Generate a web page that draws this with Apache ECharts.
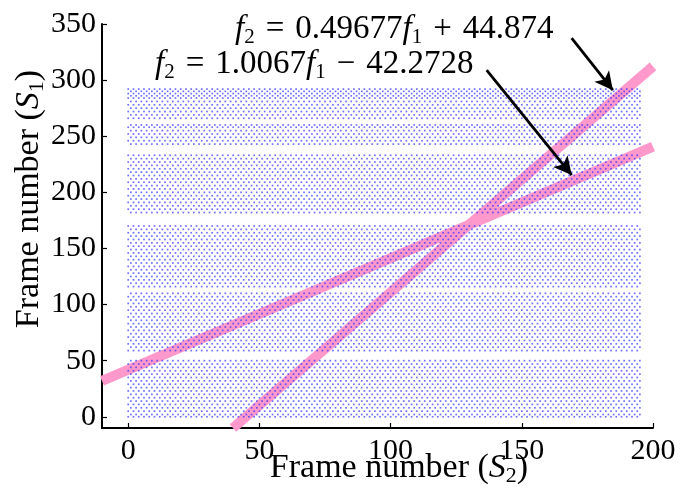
<!DOCTYPE html>
<html>
<head>
<meta charset="utf-8">
<script src="https://cdn.jsdelivr.net/npm/echarts@6/dist/echarts.min.js"></script>
<style>
html, body { margin: 0; padding: 0; background: #fff; }
#chart { width: 684px; height: 487px; }
</style>
</head>
<body>
<div id="chart"></div>
<script>
// tick labels
var xTicks = [0, 50, 100, 150, 200];
var yTicks = [0, 50, 100, 150, 200, 250, 300, 350];

// matched frames: rows of dots (S1 frame values) spanning the S2 frames
var dotFrameFirst = 0;
var dotFrameLast = 195;
var dotRows = [
	0, 2, 5, 8, 11, 14, 17, 20, 23, 26, 29, 32, 35, 38, 41, 44, 47, 50,
	59, 62, 65, 68, 71, 74, 77, 80, 83, 86, 89, 92, 95, 98, 101, 104, 107, 110,
	116, 119, 122, 125, 128, 131, 134, 137, 140, 143, 146, 149, 152, 155, 158, 161, 164, 167, 170,
	182, 185, 188, 191, 194, 197, 200, 203, 206, 209, 212, 215, 218, 221, 224, 227, 230, 233,
	243, 246, 249, 252, 255, 258, 260,
	266, 269, 272, 275, 278, 281, 284, 286, 288, 290, 292
];

// fitted lines, S2 = slope * S1 + intercept (from the annotations)
var fitSlope = [1.0067, 0.49677];
var fitIntercept = [-42.2728, 44.874];
var fitLabels = ['{it|f}{sub|2}{n|\u2004=\u20041.0067}{it|f}{sub|1}{n|\u2004\u2212\u200442.2728}',
	'{it|f}{sub|2}{n|\u2004=\u20040.49677}{it|f}{sub|1}{n|\u2004+\u200444.874}'];
// arrows: [tail, head] in data coords
var arrowTail = [[136.6, 309], [169, 337.5]];
var arrowHead = [[169, 215.4], [184.7, 291]];

var serif = '"Liberation Serif", "DejaVu Serif", serif';

// every other frame per row, shifted on alternate rows
var dots = [];
dotRows.forEach(function (y, r) {
	for (var x = dotFrameFirst + (r % 2); x <= dotFrameLast; x += 2) {
		dots.push([x, y]);
	}
});

// line 0 runs across the whole x range, line 1 starts at the bottom of the y range
function fitEnds(i) {
	var s = fitSlope[i], b = fitIntercept[i];
	if (i == 0) {
		return [[-10, (-10 - b) / s], [200, (200 - b) / s]];
	}
	return [[s * -10 + b, -10], [200, (200 - b) / s]];
}

var rich = {
	it: { fontFamily: serif, fontStyle: 'italic', fontSize: 33, lineHeight: 38, color: '#000' },
	sub: { fontFamily: serif, fontSize: 21, lineHeight: 21, verticalAlign: 'bottom', color: '#000' },
	n: { fontFamily: serif, fontSize: 33, lineHeight: 38, color: '#000' }
};
var nameRich = {
	it: { fontFamily: serif, fontStyle: 'italic', fontSize: 34, lineHeight: 38, color: '#000' },
	sub: { fontFamily: serif, fontSize: 22, lineHeight: 22, verticalAlign: 'bottom', color: '#000' },
	n: { fontFamily: serif, fontSize: 34, lineHeight: 38, color: '#000' }
};

var chart = echarts.init(document.getElementById('chart'));
chart.setOption({
	animation: false,
	grid: { left: 102, right: 31, top: 24, bottom: 59 },
	xAxis: {
		type: 'value', min: -10, max: 200,
		axisLine: { onZero: false, lineStyle: { color: '#000', width: 2 } },
		axisTick: { inside: true, length: 5, customValues: xTicks, lineStyle: { color: '#000', width: 1.2 } },
		axisLabel: { customValues: xTicks, fontFamily: serif, fontSize: 30, color: '#000', margin: 8 },
		splitLine: { show: false }
	},
	yAxis: {
		type: 'value', min: -10, max: 350,
		axisLine: { show: true, onZero: false, lineStyle: { color: '#000', width: 2 } },
		axisTick: { show: true, inside: true, length: 5, customValues: yTicks, lineStyle: { color: '#000', width: 1.2 } },
		axisLabel: { customValues: yTicks, fontFamily: serif, fontSize: 30, color: '#000', margin: 6 },
		splitLine: { show: false }
	},
	graphic: [
		{ type: 'text', x: 399, y: 468, style: { text: '{n|Frame number (}{it|S}{sub|2}{n|)}', rich: nameRich, align: 'center', verticalAlign: 'middle' } },
		{ type: 'text', x: 29, y: 199, rotation: Math.PI / 2, style: { text: '{n|Frame number (}{it|S}{sub|1}{n|)}', rich: nameRich, align: 'center', verticalAlign: 'middle' } },
		{ type: 'text', x: 155, y: 64, style: { text: fitLabels[0], rich: rich, align: 'left', verticalAlign: 'middle' } },
		{ type: 'text', x: 235, y: 29, style: { text: fitLabels[1], rich: rich, align: 'left', verticalAlign: 'middle' } }
	],
	series: [
		{
			type: 'line', data: fitEnds(0), symbol: 'none', z: 1, silent: true,
			lineStyle: { color: '#ff99cc', width: 10, cap: 'butt' }
		},
		{
			type: 'line', data: fitEnds(1), symbol: 'none', z: 1, silent: true,
			lineStyle: { color: '#ff99cc', width: 10, cap: 'butt' },
			markLine: {
				silent: true, symbol: ['none', 'arrow'], symbolSize: [14, 18],
				lineStyle: { color: '#000', width: 2.8, type: 'solid' },
				label: { show: false },
				data: [
					[{ coord: arrowTail[0] }, { coord: arrowHead[0] }],
					[{ coord: arrowTail[1] }, { coord: arrowHead[1] }]
				]
			}
		},
		{
			type: 'scatter', data: dots, symbol: 'rect', symbolSize: 1.7, z: 2,
			large: true, largeThreshold: 2000, silent: true,
			itemStyle: { color: 'rgba(30,30,255,0.8)' }
		}
	]
});
</script>
</body>
</html>
